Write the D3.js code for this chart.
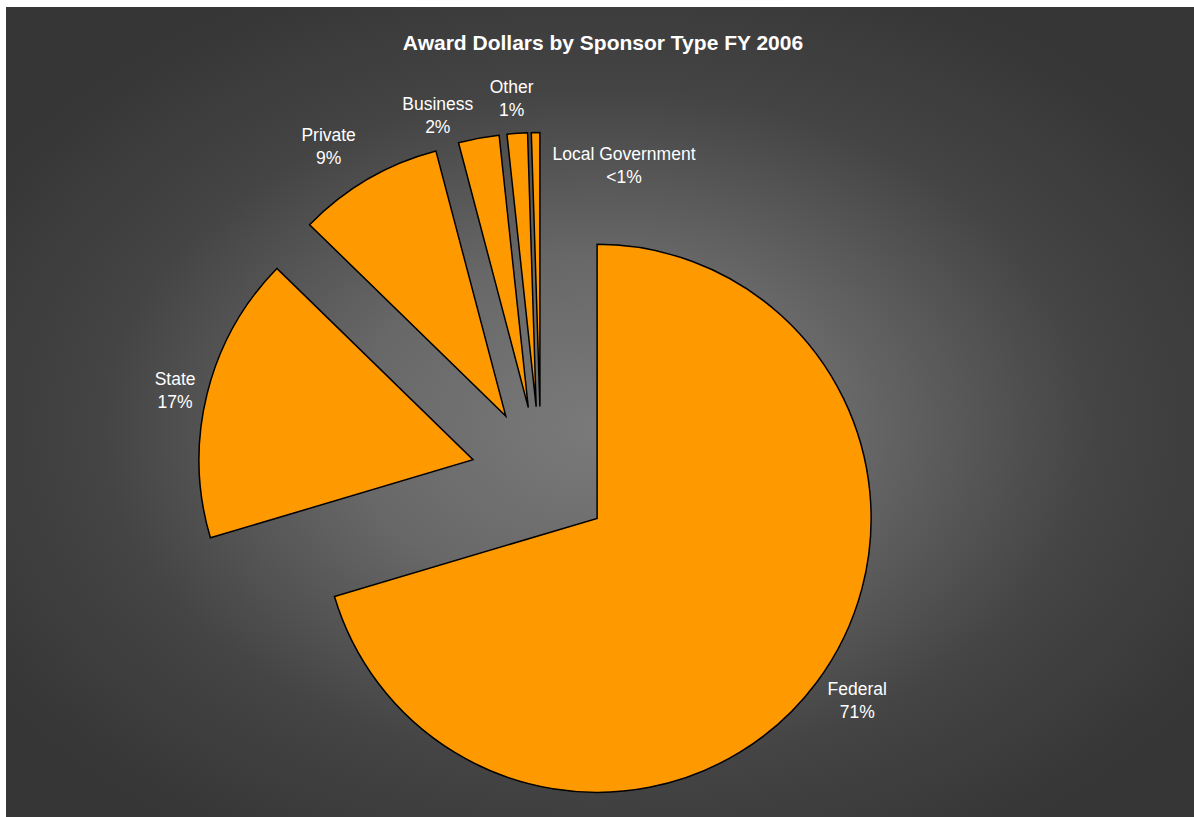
<!DOCTYPE html>
<html>
<head>
<meta charset="utf-8">
<script src="https://cdn.jsdelivr.net/npm/d3@7/dist/d3.min.js"></script>
<style>
  body { margin: 0; background: #fff; }
  text { font-family: "Liberation Sans", Arial, sans-serif; fill: #fff; }
</style>
</head>
<body>
<svg id="chart"></svg>
<script>
// values (percent of award dollars)
const categories = ['Federal', 'State', 'Private', 'Business', 'Other', 'Local Government'];
const shares = [70.4, 16.9, 8.6, 2.4, 1.2, 0.5];
const shareLabels = ['71%', '17%', '9%', '2%', '1%', '<1%'];

const svgWidth = 1194;
const svgHeight = 817;
const center = {x: 541, y: 476.5};
const radius = 274;
const explode = 70;
const labelDist = 382;

const svg = d3.select('#chart')
  .attr('width', svgWidth)
  .attr('height', svgHeight);

// background gradient, light in the middle
const defs = svg.append('defs');
const grad = defs.append('radialGradient')
  .attr('id', 'bg')
  .attr('cx', '50%').attr('cy', '52%').attr('r', '60%');
grad.append('stop').attr('offset', '0%').attr('stop-color', '#7a7a7a');
grad.append('stop').attr('offset', '35%').attr('stop-color', '#686868');
grad.append('stop').attr('offset', '70%').attr('stop-color', '#444');
grad.append('stop').attr('offset', '100%').attr('stop-color', '#363636');

svg.append('rect')
  .attr('x', 6).attr('y', 7)
  .attr('width', svgWidth - 6).attr('height', svgHeight - 7)
  .attr('fill', 'url(#bg)');

svg.append('text')
  .attr('x', 603).attr('y', 50)
  .attr('text-anchor', 'middle')
  .style('font-size', '21px')
  .style('font-weight', 'bold')
  .text('Award Dollars by Sponsor Type FY 2006');

const data = categories.map((c, i) => ({name: c, value: shares[i], label: shareLabels[i]}));

const pie = d3.pie().value(d => d.value).sort(null);
const arc = d3.arc().innerRadius(0).outerRadius(radius);
const arcs = pie(data);

const g = svg.append('g')
  .attr('transform', 'translate(' + center.x + ',' + center.y + ')');

function dir(d) {
  const a = (d.startAngle + d.endAngle) / 2;
  return [Math.sin(a), -Math.cos(a)];
}

g.selectAll('path')
  .data(arcs)
  .enter()
  .append('path')
  .attr('d', arc)
  .attr('transform', d => {
    const v = dir(d);
    return 'translate(' + v[0] * explode + ',' + v[1] * explode + ')';
  })
  .attr('fill', '#ff9900')
  .attr('stroke', '#000')
  .attr('stroke-width', 1.5)
  .attr('stroke-linejoin', 'miter');

// labels were moved about by hand in the original
const labelNudge = [[10, -5], [5, 5], [-20, 0], [-34, 14], [-3, 3], [89, 70]];

const labels = g.selectAll('text.lbl')
  .data(arcs)
  .enter()
  .append('text')
  .attr('class', 'lbl')
  .attr('text-anchor', 'middle')
  .style('font-size', '17.5px')
  .attr('transform', (d, i) => {
    const v = dir(d);
    const x = v[0] * labelDist + labelNudge[i][0];
    const y = v[1] * labelDist + labelNudge[i][1];
    return 'translate(' + x + ',' + y + ')';
  });

labels.append('tspan').attr('x', 0).attr('y', -5).text(d => d.data.name);
labels.append('tspan').attr('x', 0).attr('y', 18).text(d => d.data.label);
</script>
</body>
</html>
